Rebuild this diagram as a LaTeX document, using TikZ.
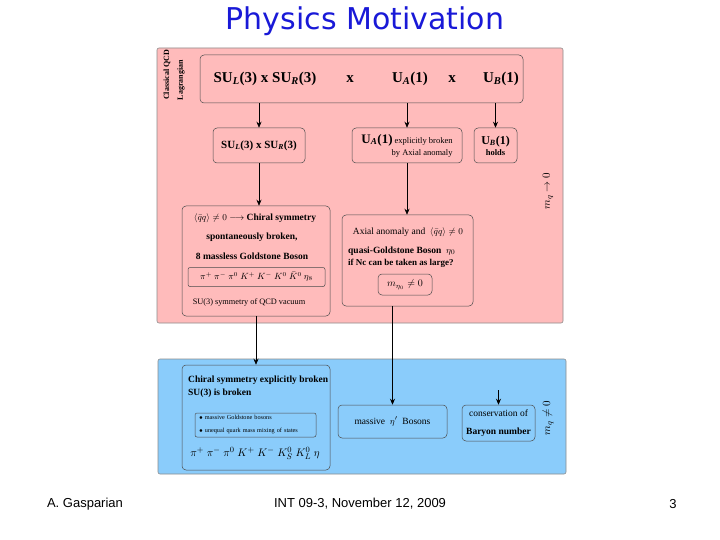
\documentclass[tikz,border=0pt]{standalone}
\usepackage{fontspec}
\setmainfont{Liberation Serif}
\newfontfamily\footfont{Liberation Sans}
\newfontfamily\titlefont{DejaVu Sans}
\usetikzlibrary{positioning, arrows.meta, calc}
\definecolor{pinkbg}{RGB}{255,187,187}
\definecolor{bluebg}{RGB}{138,204,251}
\definecolor{titleblue}{RGB}{25,25,215}

\begin{document}
\begin{tikzpicture}[x=1pt, y=-1pt,
		panel/.style={draw=black!45, line width=0.6pt, rounded corners=2pt},
		box/.style={draw=black!70, line width=0.5pt, rounded corners=4pt, inner sep=0pt},
		txt/.style={font=\bfseries\fontsize{9}{10}\selectfont, inner sep=0pt},
		side/.style={rotate=90, inner sep=0pt},
		myarrow/.style={draw=black, line width=0.6pt, -{Stealth[length=6pt, width=5pt]}},
		>=Stealth]
		
		\useasboundingbox (0,0) rectangle (720,540);
		
		\node[font=\titlefont\fontsize{30}{32}\selectfont, text=titleblue] (title) at (365,21) {Physics Motivation};
		
		\draw[panel, fill=pinkbg] (157,48) rectangle (563,323);
		\draw[panel, fill=bluebg] (158,359) rectangle (566,474);
		
		% classical QCD lagrangian
		\node[side, font=\bfseries\fontsize{8}{9}\selectfont] (qcd) at (167,75) {Classical QCD};
		\node[side, font=\bfseries\fontsize{8}{9}\selectfont] (lag) at (181,80) {Lagrangian};
		\node[box, minimum width=323, minimum height=48] (lagr) at (361.5,79) {};
		\node[txt, font=\bfseries\fontsize{15}{16}\selectfont] (sulr) at (265,79) {SU\textsubscript{\textit{L}}(3) x SU\textsubscript{\textit{R}}(3)};
		\node[txt, font=\bfseries\fontsize{15}{16}\selectfont] (x1) at (350,79) {x};
		\node[txt, font=\bfseries\fontsize{15}{16}\selectfont] (ua1) at (410,79) {U\textsubscript{\textit{A}}(1)};
		\node[txt, font=\bfseries\fontsize{15}{16}\selectfont] (x2) at (452,79) {x};
		\node[txt, font=\bfseries\fontsize{15}{16}\selectfont] (ub1) at (501,79) {U\textsubscript{\textit{B}}(1)};
		
		\node[box, minimum width=92, minimum height=35, font=\bfseries\fontsize{11}{12}\selectfont] (su) at (259,145.5) {SU\textsubscript{\textit{L}}(3) x SU\textsubscript{\textit{R}}(3)};
		\node[box, minimum width=110, minimum height=35, align=right, font=\fontsize{8.5}{12}\selectfont] (ua) at (407,145.5) {{\bfseries\fontsize{13}{13}\selectfont U\textsubscript{\textit{A}}(1)} explicitly broken\\ by Axial anomaly};
		\node[box, minimum width=43, minimum height=35, align=center, font=\bfseries\fontsize{8.5}{11}\selectfont] (ub) at (495.5,145.5) {{\fontsize{12}{12}\selectfont U\textsubscript{\textit{B}}(1)}\\ holds};
		\node[side, font=\bfseries\fontsize{11}{12}\selectfont] (mq0) at (548,191) {$m_q \rightarrow 0$};
		
		% spontaneous breaking
		\node[box, minimum width=148, minimum height=110] (ssb) at (256,261) {};
		\node[txt, font=\bfseries\fontsize{9.5}{10}\selectfont] (ssb1) at (255,218) {$\langle\bar{q}q\rangle \neq 0$ $\longrightarrow$ Chiral symmetry};
		\node[txt, font=\bfseries\fontsize{9.5}{10}\selectfont] (ssb2) at (252,237) {spontaneously broken,};
		\node[txt, font=\bfseries\fontsize{9.5}{10}\selectfont] (ssb3) at (252,256) {8 massless Goldstone Boson};
		\node[box, minimum width=137, minimum height=19, rounded corners=2pt, font=\fontsize{9}{10}\selectfont] (gold8) at (256.5,277) {$\pi^+\ \pi^-\ \pi^0\ K^+\ K^-\ K^0\ \bar{K}^0\ \eta_8$};
		\node[txt, font=\fontsize{8.3}{9}\selectfont] (ssb5) at (249,302) {SU(3) symmetry of QCD vacuum};
		
		\node[box, minimum width=131, minimum height=91] (axial) at (407.5,260.5) {};
		\node[txt, font=\fontsize{9.5}{10}\selectfont] (ax1) at (408,232) {Axial anomaly and \ $\langle\bar{q}q\rangle \neq 0$};
		\node[txt, anchor=west, font=\bfseries\fontsize{9.5}{10}\selectfont] (ax2) at (348,251) {quasi-Goldstone Boson \ $\eta_0$};
		\node[txt, anchor=west, font=\bfseries\fontsize{9}{10}\selectfont] (ax3) at (348,263) {if Nc can be taken as large?};
		\node[box, minimum width=54, minimum height=21, font=\fontsize{10}{11}\selectfont] (meta) at (405,284.5) {$m_{\eta_0} \neq 0$};
		
		% explicit breaking
		\node[box, minimum width=148, minimum height=105] (expl) at (256,417.5) {};
		\node[txt, anchor=west, font=\bfseries\fontsize{9.5}{10}\selectfont] (ex1) at (188,380) {Chiral symmetry explicitly broken};
		\node[txt, anchor=west, font=\bfseries\fontsize{9.5}{10}\selectfont] (ex2) at (188,393) {SU(3) is broken};
		\node[box, minimum height=24, text width=113, inner xsep=4pt, rounded corners=2pt, align=left, font=\fontsize{6.2}{13}\selectfont] (mix) at (255.5,425) {$\bullet$ massive Goldstone bosons\\ $\bullet$ unequal quark mass mixing of states};
		\node[txt, font=\fontsize{11}{12}\selectfont] (ex3) at (255,453) {$\pi^+\ \pi^-\ \pi^0\ K^+\ K^-\ K^0_S\ K^0_L\ \eta$};
		
		\node[box, minimum width=109, minimum height=33, font=\fontsize{9.5}{10}\selectfont] (massive) at (392.5,421.5) {massive \ $\eta'$ \ Bosons};
		\node[box, minimum width=73, minimum height=36, align=center, font=\fontsize{9.5}{18}\selectfont] (baryon) at (498.5,423) {conservation of\\ \textbf{Baryon number}};
		\node[side, font=\bfseries\fontsize{11}{12}\selectfont] (mqn) at (548,418) {$m_q \neq 0$};
		\coordinate (bartop) at (498.5,390);
		
		\draw[myarrow] (lagr.south -| su.north) -- (su.north);
		\draw[myarrow] (lagr.south -| ua.north) -- (ua.north);
		\draw[myarrow] (lagr.south -| ub.north) -- (ub.north);
		\draw[myarrow] (su.south) -- (su.south |- ssb.north);
		\draw[myarrow] (ua.south) -- (ua.south |- axial.north);
		\draw[myarrow] (ssb.south) -- (ssb.south |- expl.north);
		\draw[myarrow] (massive.north |- axial.south) -- (massive.north);
		\draw[myarrow] (bartop) -- (baryon.north);
		
		\node[font=\footfont\fontsize{13}{14}\selectfont] (author) at (85,504) {A. Gasparian};
		\node[font=\footfont\fontsize{13}{14}\selectfont] (event) at (360,504) {INT 09-3, November 12, 2009};
		\node[font=\footfont\fontsize{13}{14}\selectfont] (page) at (673,504) {3};
	\end{tikzpicture}
\end{document}
